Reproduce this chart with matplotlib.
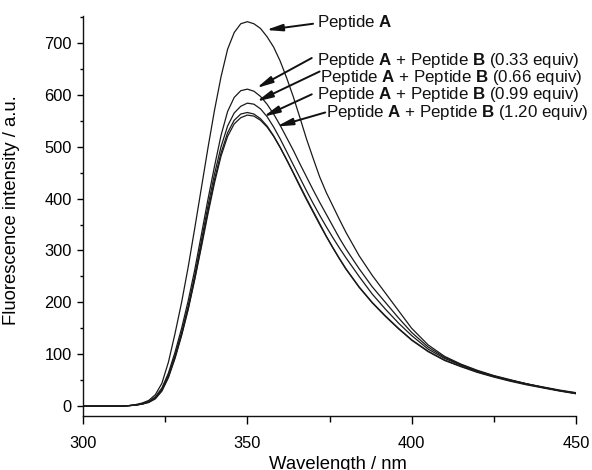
import matplotlib
matplotlib.use('Agg')
import matplotlib.pyplot as plt
from matplotlib.ticker import MultipleLocator

plt.rcParams['font.family'] = ['Liberation Sans', 'DejaVu Sans']
plt.rcParams['mathtext.fontset'] = 'custom'
plt.rcParams['mathtext.rm'] = 'Liberation Sans'
plt.rcParams['mathtext.bf'] = 'Liberation Sans:bold'

# wavelength grid (nm)
wavelength = [300, 305, 310, 312, 314, 316, 318, 320, 322, 324, 326, 328, 330,
              332, 334, 336, 338, 340, 342, 344, 346, 348, 350, 352, 354, 356,
              358, 360, 362, 364, 366, 368, 370, 372, 374, 376, 378, 380, 384,
              388, 392, 396, 400, 405, 410, 415, 420, 425, 430, 435, 440, 445, 450]

pep_a = [0, 0, 0, 0, 1, 3, 6, 11, 22, 44, 85, 140, 200,
         268, 343, 420, 497, 570, 635, 688, 720, 737, 741, 737, 728, 712,
         692, 665, 632, 596, 556, 515, 478, 442, 412, 386, 360, 335, 290,
         252, 218, 184, 150, 118, 96, 81, 69, 59, 51, 43, 37, 31, 26]

pep_b033 = [0, 0, 0, 0, 1, 2, 5, 9, 18, 35, 64, 104, 150,
            203, 263, 330, 398, 462, 522, 568, 595, 608, 611, 607, 597, 582,
            563, 541, 517, 493, 467, 442, 417, 393, 370, 347, 324, 303, 265,
            230, 200, 170, 142, 114, 94, 80, 68, 58, 50, 43, 36, 30, 25]

pep_b066 = [0, 0, 0, 0, 1, 2, 4, 8, 16, 32, 60, 98, 142,
            193, 252, 318, 385, 447, 500, 540, 565, 578, 584, 582, 573, 558,
            538, 515, 490, 465, 440, 415, 391, 368, 346, 325, 305, 286, 250,
            216, 187, 160, 136, 110, 92, 79, 67, 58, 50, 43, 36, 30, 25]

pep_b099 = [0, 0, 0, 0, 1, 2, 4, 8, 15, 30, 57, 94, 138,
            188, 246, 310, 375, 436, 488, 527, 551, 563, 566, 563, 554, 540,
            521, 499, 475, 450, 425, 400, 376, 352, 328, 306, 285, 265, 230,
            200, 174, 150, 128, 106, 89, 77, 66, 57, 49, 42, 36, 30, 24]

pep_b120 = [0, 0, 0, 0, 1, 2, 4, 7, 14, 29, 55, 92, 136,
            186, 244, 306, 370, 430, 482, 520, 544, 556, 561, 559, 551, 538,
            520, 498, 474, 449, 423, 398, 374, 350, 327, 305, 284, 264, 229,
            199, 173, 149, 127, 105, 88, 76, 65, 56, 48, 41, 35, 29, 24]

series = [pep_a, pep_b033, pep_b066, pep_b099, pep_b120]
labels = [r'Peptide $\mathbf{A}$',
          r'Peptide $\mathbf{A}$ + Peptide $\mathbf{B}$ (0.33 equiv)',
          r'Peptide $\mathbf{A}$ + Peptide $\mathbf{B}$ (0.66 equiv)',
          r'Peptide $\mathbf{A}$ + Peptide $\mathbf{B}$ (0.99 equiv)',
          r'Peptide $\mathbf{A}$ + Peptide $\mathbf{B}$ (1.20 equiv)']

# annotation layout: text anchor, arrow tail, arrow tip (data coords)
text_pos = [(371.2, 739), (371.2, 666), (372.2, 634), (371.2, 600), (373.9, 566)]
tail_pos = [(370.0, 737), (369.6, 671), (372.0, 645), (369.6, 601), (373.7, 566)]
tip_pos = [(355.7, 725), (352.8, 613), (352.8, 587), (354.9, 558), (358.9, 539)]

fig = plt.figure(figsize=(5.92, 4.70), dpi=100)
ax = fig.add_axes([0.1402, 0.1149, 0.8328, 0.8511])

for ys in series:
    ax.plot(wavelength, ys, color='#1a1a1a', lw=0.9)

for lab, tp, tl, tip in zip(labels, text_pos, tail_pos, tip_pos):
    ax.text(tp[0], tp[1], lab, ha='left', va='center', fontsize=12.2, color='#111111')
    ax.annotate('', xy=tip, xytext=tl,
                arrowprops=dict(arrowstyle='-|>,head_length=0.8,head_width=0.17',
                                color='#111111', lw=1.4, shrinkA=0, shrinkB=0,
                                mutation_scale=12))

ax.set_xlim(300, 450)
ax.set_ylim(-19, 752)
ax.xaxis.set_major_locator(MultipleLocator(50))
ax.xaxis.set_minor_locator(MultipleLocator(25))
ax.yaxis.set_major_locator(MultipleLocator(100))
ax.yaxis.set_minor_locator(MultipleLocator(50))

for side in ['top', 'right']:
    ax.spines[side].set_visible(False)
for side in ['left', 'bottom']:
    ax.spines[side].set_linewidth(1.0)
    ax.spines[side].set_color('#111111')

ax.tick_params(axis='x', which='major', direction='out', length=5.5, width=1.0, pad=9, labelsize=11.8)
ax.tick_params(axis='x', which='minor', direction='out', length=4, width=1.0)
ax.tick_params(axis='y', which='major', direction='out', length=4.5, width=1.0, pad=3.5, labelsize=11.8)
ax.tick_params(axis='y', which='minor', direction='out', length=2.5, width=1.0)

ax.set_xlabel('Wavelength / nm', fontsize=13.3)
ax.set_ylabel('Fluorescence intensity / a.u.', fontsize=13.3)
ax.xaxis.set_label_coords(0.517, -0.1)
ax.yaxis.set_label_coords(-0.128, 0.515)

fig.savefig('out.png', dpi=100)
